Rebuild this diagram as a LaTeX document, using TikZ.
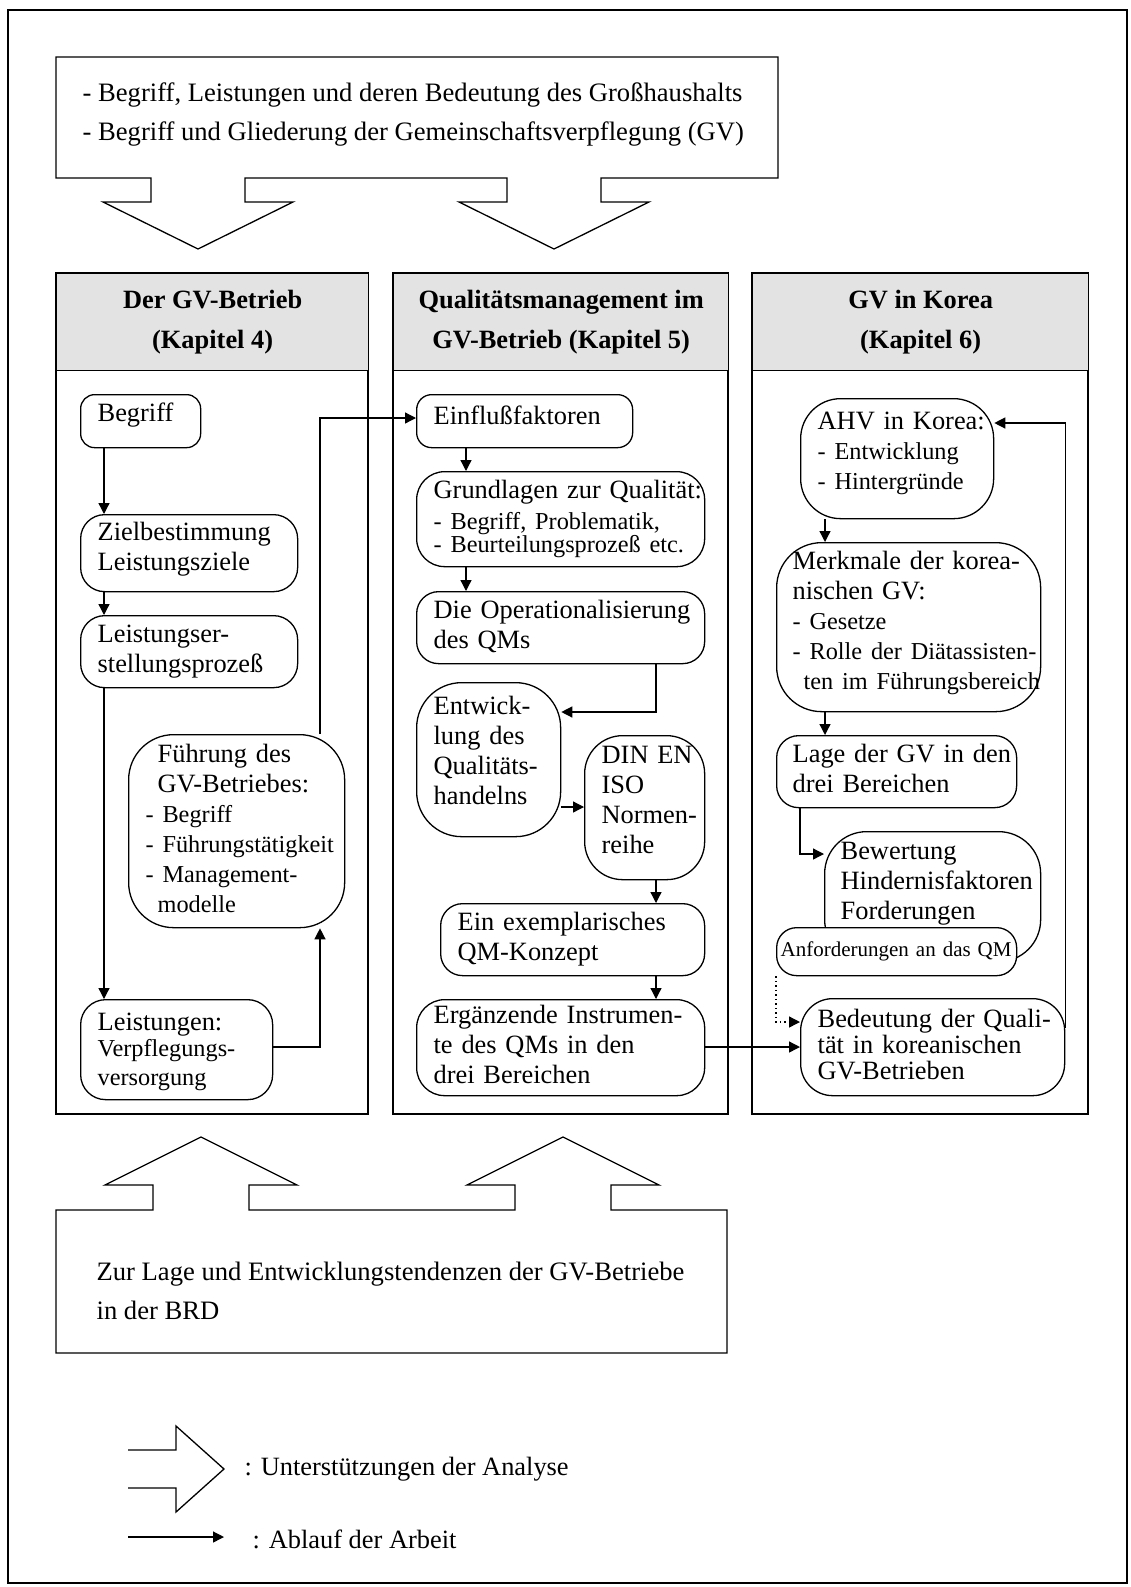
\documentclass[tikz,border=0pt]{standalone}
\usepackage{fontspec}
\setmainfont{Liberation Serif}
\usetikzlibrary{arrows.meta}

% one-column block of left-aligned lines
\newcommand\tl[1]{\begin{tabular}{@{}l@{}}#1\end{tabular}}
% slightly smaller size for list items
\newcommand\sm{\fontsize{24.3}{28}\selectfont}

\begin{document}
\begin{tikzpicture}[x=1pt,y=-1pt,
  line width=1.3pt,
  every node/.style={font=\fontsize{26.4}{30}\selectfont},
  rbox/.style={draw, fill=white, anchor=north west, inner xsep=17pt,
               inner ysep=0pt, align=left, rounded corners=#1},
  hdr/.style={draw, fill=black!11, anchor=north west, align=center,
              inner sep=0pt, font=\fontsize{26.4}{40}\selectfont\bfseries},
  txt/.style={inner sep=0pt, align=left, anchor=west},
  flow/.style={-{Triangle[length=11pt,width=11pt]}},
  dots/.style={dash pattern=on 1.5pt off 3pt}]

\useasboundingbox (0,0) rectangle (1130,1587);
\draw (8,10) rectangle (1127,1583);

% ---------- top box with two downward block arrows ----------
\draw (56,57) -- (778,57) -- (778,178) -- (601,178) -- (601,202) -- (649,202)
  -- (554,249) -- (459,202) -- (507,202) -- (507,178) -- (245,178) -- (245,202)
  -- (293,202) -- (198,249) -- (103,202) -- (151,202) -- (151,178) -- (56,178) -- cycle;
\node[txt, font=\fontsize{26.6}{39}\selectfont] (toptext) at (82,115) {- Begriff, Leistungen und deren Bedeutung des Großhaushalts\\- Begriff und Gliederung der Gemeinschaftsverpflegung (GV)};

% ---------- three columns ----------
\draw (56,273) rectangle (368,1114);
\draw (393,273) rectangle (728,1114);
\draw (752,273) rectangle (1088,1114);
\node[hdr, minimum width=312pt, minimum height=97pt] (h1) at (56,273) {Der GV-Betrieb\\(Kapitel 4)};
\node[hdr, minimum width=335pt, minimum height=97pt] (h2) at (393,273) {Qualitätsmanagement im\\GV-Betrieb (Kapitel 5)};
\node[hdr, minimum width=336pt, minimum height=97pt] (h3) at (752,273) {GV in Korea\\(Kapitel 6)};

% column 1
\node[rbox=14pt, text width=86pt, minimum height=53pt] (begriff) at (80,394) {\tl{Begriff\\[12pt]}};
\node[rbox=24pt, text width=183pt, minimum height=77pt] (ziel) at (80,514) {\tl{Zielbestimmung\\Leistungsziele\\[8pt]}};
\node[rbox=24pt, text width=183pt, minimum height=72pt] (leistser) at (80,615) {\tl{Leistungser-\\stellungsprozeß}};
\node[rbox=45pt, text width=182pt, minimum height=193pt] (fuehr) at (128,734) {\tl{\hspace{12pt}Führung des\\\hspace{12pt}GV-Betriebes:\\\sm - Begriff\\\sm - Führungstätigkeit\\\sm - Management-\\\sm\hspace{12pt}modelle}};
\node[rbox=25pt, text width=158pt, minimum height=100pt] (leistungen) at (80,999) {\tl{Leistungen:\\[-4pt]\sm Verpflegungs-\\[-1pt]\sm versorgung\\[-5pt]}};

% column 2
\node[rbox=15pt, text width=182pt, minimum height=53pt] (einfl) at (416,394) {\tl{Einflußfaktoren\\[5pt]}};
\node[rbox=28pt, text width=254pt, minimum height=95pt] (grundl) at (416,471) {\tl{Grundlagen zur Qualität:\\[1pt]\sm - Begriff, Problematik,\\[-7pt]\sm - Beurteilungsprozeß etc.}};
\node[rbox=22pt, text width=254pt, minimum height=72pt] (dieop) at (416,591) {\tl{Die Operationalisierung\\des QMs}};
\node[rbox=45pt, text width=110pt, minimum height=154pt] (entw) at (416,682) {\tl{Entwick-\\lung des\\Qualitäts-\\handelns\\[12pt]}};
\node[rbox=38pt, text width=86pt, minimum height=144pt] (din) at (584,735) {\tl{DIN EN\\ISO\\Normen-\\reihe\\[10pt]}};
\node[rbox=22pt, text width=230pt, minimum height=72pt] (exempl) at (440,903) {\tl{Ein exemplarisches\\QM-Konzept}};
\node[rbox=28pt, text width=254pt, minimum height=96pt] (ergaenz) at (416,999) {\tl{Ergänzende Instrumen-\\te des QMs in den\\drei Bereichen}};

% column 3
\node[rbox=40pt, text width=159pt, minimum height=120pt] (ahv) at (800,398) {\tl{AHV in Korea:\\\sm - Entwicklung\\\sm - Hintergründe\\[10pt]}};
\node[rbox=45pt, inner xsep=16pt, text width=232pt, minimum height=169pt] (merkm) at (776,542) {\tl{Merkmale der korea-\\nischen GV:\\\sm - Gesetze\\\sm - Rolle der Diätassisten-\\\sm\hspace{11pt}ten im Führungsbereich\\[8pt]}};
\node[rbox=22pt, inner xsep=16pt, text width=208pt, minimum height=72pt] (lage) at (776,735) {\tl{Lage der GV in den\\drei Bereichen}};
\node[rbox=42pt, inner xsep=16pt, text width=184pt, minimum height=130pt] (bewert) at (824,831) {\tl{Bewertung\\Hindernisfaktoren\\Forderungen\\[27pt]}};
\node[rbox=20pt, inner xsep=4pt, text width=232pt, minimum height=48pt, font=\fontsize{21}{25}\selectfont] (anf) at (776,927) {\tl{Anforderungen an das QM}};
\node[rbox=32pt, text width=230pt, minimum height=97pt] (bedeut) at (800,998) {\tl{Bedeutung der Quali-\\[-4pt]tät in koreanischen\\[-4pt]GV-Betrieben}};

% guide positions for the connectors
\coordinate (xA) at (104,0);
\coordinate (xB) at (320,0);
\coordinate (xC) at (466,0);
\coordinate (xD) at (656,0);
\coordinate (xE) at (825,0);
\coordinate (xF) at (800,0);
\coordinate (yA) at (0,418);
\coordinate (yB) at (0,712);
\coordinate (yC) at (0,807);
\coordinate (yD) at (0,423);
\coordinate (yE) at (0,854);
\coordinate (yF) at (0,1022);
\coordinate (yG) at (0,1047);

% work flow
\draw[flow] (begriff.south -| xA) -- (ziel.north -| xA);
\draw[flow] (ziel.south -| xA) -- (leistser.north -| xA);
\draw[flow] (leistser.south -| xA) -- (leistungen.north -| xA);
\draw[flow] (leistungen.east |- yG) -| (fuehr.south -| xB);
\draw[flow] (fuehr.north -| xB) |- (einfl.west |- yA);
\draw[flow] (einfl.south -| xC) -- (grundl.north -| xC);
\draw[flow] (grundl.south -| xC) -- (dieop.north -| xC);
\draw[flow] (dieop.south -| xD) |- (entw.east |- yB);
\draw[flow] (entw.east |- yC) -- (din.west |- yC);
\draw[flow] (din.south -| xD) -- (exempl.north -| xD);
\draw[flow] (exempl.south -| xD) -- (ergaenz.north -| xD);
\draw[flow] (ergaenz.east |- yG) -- (bedeut.west |- yG);
\draw[flow] ([yshift=-30pt]bedeut.north east) |- (ahv.east |- yD);
\draw[flow] (ahv.south -| xE) -- (merkm.north -| xE);
\draw[flow] (merkm.south -| xE) -- (lage.north -| xE);
\draw[flow] (lage.south -| xF) |- (bewert.west |- yE);
\draw[flow, dots] (anf.south west) |- (bedeut.west |- yF);

% ---------- bottom box with two upward block arrows ----------
\draw (56,1353) -- (56,1210) -- (153,1210) -- (153,1185) -- (105,1185) -- (201,1137)
  -- (297,1185) -- (249,1185) -- (249,1210) -- (515,1210) -- (515,1185) -- (467,1185)
  -- (563,1137) -- (659,1185) -- (611,1185) -- (611,1210) -- (727,1210) -- (727,1353) -- cycle;
\node[txt, font=\fontsize{26.6}{39}\selectfont] (bottext) at (96,1291) {Zur Lage und Entwicklungstendenzen der GV-Betriebe\\in der BRD};

% ---------- legend ----------
\draw (128,1450) -- (176,1450) -- (176,1426) -- (224,1469) -- (176,1512) -- (176,1488) -- (128,1488);
\node[txt] (leg1) at (244,1469) {: Unterstützungen der Analyse};
\coordinate (lg1) at (128,1537);
\coordinate (lg2) at (224,1537);
\draw[flow] (lg1) -- (lg2);
\node[txt] (leg2) at (252,1539) {: Ablauf der Arbeit};
\end{tikzpicture}
\end{document}
